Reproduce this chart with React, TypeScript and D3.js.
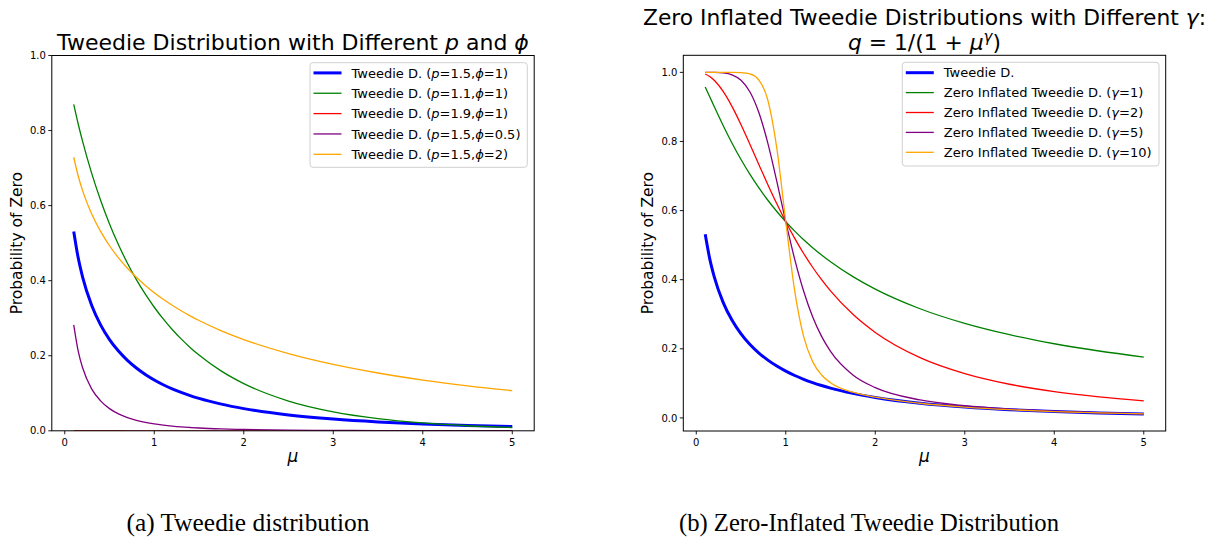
import React from "react";
import * as d3 from "d3";

// mean values sampled along the x axis
const MU = [0.1, 0.15, 0.2, 0.3, 0.4, 0.5, 0.6, 0.7, 0.8, 0.9, 1.0, 1.1, 1.2, 1.3, 1.4, 1.5, 1.75, 2.0, 2.5, 3.0, 3.5, 4.0, 4.5, 5.0];

// Left panel: Tweedie probability of zero
const TW_P15_PHI1 = [0.5313, 0.4609, 0.4089, 0.3344, 0.2823, 0.2431, 0.2124, 0.1876, 0.1672, 0.15, 0.1353, 0.1227, 0.1118, 0.1022, 0.0938, 0.0863, 0.071, 0.0591, 0.0423, 0.0313, 0.0237, 0.0183, 0.0144, 0.0114];
const TW_P11_PHI1 = [0.8695, 0.8175, 0.7703, 0.6866, 0.6144, 0.5513, 0.4958, 0.4466, 0.4029, 0.364, 0.3292, 0.298, 0.27, 0.2449, 0.2222, 0.2018, 0.159, 0.1258, 0.0793, 0.0505, 0.0324, 0.0209, 0.0135, 0.0088];
const TW_P19_PHI1 = [0.00035, 0.00026, 0.0002, 0.00014, 0.00011, 0.00009, 0.000075, 0.000064, 0.000057, 0.000051, 0.000045, 0.000041, 0.000037, 0.000035, 0.000032, 0.00003, 0.000026, 0.000022, 0.000017, 0.000014, 0.000012, 0.00001, 0.000009, 0.000008];
const TW_P15_PHI05 = [0.2823, 0.2124, 0.1672, 0.1118, 0.0797, 0.0591, 0.0451, 0.0352, 0.028, 0.0225, 0.0183, 0.0151, 0.0125, 0.0104, 0.0088, 0.0074, 0.005, 0.0035, 0.0018, 0.001, 0.00056, 0.00034, 0.00021, 0.00013];
const TW_P15_PHI2 = [0.7289, 0.6789, 0.6394, 0.5783, 0.5313, 0.4931, 0.4609, 0.4332, 0.4089, 0.3873, 0.3679, 0.3503, 0.3344, 0.3198, 0.3063, 0.2938, 0.2664, 0.2431, 0.2057, 0.1769, 0.154, 0.1353, 0.1199, 0.1069];

// Right panel: zero-inflated Tweedie
const ZI_G1 = [0.9574, 0.9297, 0.9015, 0.8464, 0.7949, 0.7477, 0.7047, 0.6655, 0.6299, 0.5974, 0.5677, 0.5405, 0.5155, 0.4926, 0.4714, 0.4518, 0.4088, 0.3727, 0.3159, 0.2735, 0.2407, 0.2146, 0.1936, 0.1762];
const ZI_G2 = [0.9954, 0.9881, 0.9773, 0.945, 0.901, 0.8486, 0.7915, 0.7328, 0.675, 0.6196, 0.5677, 0.5197, 0.4758, 0.436, 0.4, 0.3674, 0.2997, 0.2473, 0.1744, 0.1282, 0.0974, 0.076, 0.0608, 0.0494];
const ZI_G5 = [1.0, 1.0, 0.9998, 0.9984, 0.9927, 0.9771, 0.9432, 0.8831, 0.7945, 0.6844, 0.5677, 0.4588, 0.3664, 0.2927, 0.2359, 0.1926, 0.1244, 0.0876, 0.052, 0.0353, 0.0256, 0.0193, 0.0149, 0.0117];
const ZI_G10 = [1.0, 1.0, 1.0, 1.0, 0.9999, 0.9993, 0.9953, 0.9777, 0.9193, 0.7803, 0.5677, 0.3668, 0.2353, 0.1629, 0.1241, 0.1019, 0.0744, 0.06, 0.0424, 0.0313, 0.0237, 0.0183, 0.0144, 0.0114];

const X_TICKS = [0, 1, 2, 3, 4, 5];
const Y_TICKS = [0, 0.2, 0.4, 0.6, 0.8, 1.0];

type Series = { values: number[]; color: string; width: number; label: React.ReactNode };

const FONT = "DejaVu Sans";

const it = (s: string) => <tspan fontStyle="italic">{s}</tspan>;

const LEFT_SERIES: Series[] = [
  { values: TW_P15_PHI1, color: "#0000ff", width: 3, label: <>Tweedie D. ({it("p")}=1.5,{it("ϕ")}=1)</> },
  { values: TW_P11_PHI1, color: "#008000", width: 1.3, label: <>Tweedie D. ({it("p")}=1.1,{it("ϕ")}=1)</> },
  { values: TW_P19_PHI1, color: "#ff0000", width: 1.3, label: <>Tweedie D. ({it("p")}=1.9,{it("ϕ")}=1)</> },
  { values: TW_P15_PHI05, color: "#800080", width: 1.3, label: <>Tweedie D. ({it("p")}=1.5,{it("ϕ")}=0.5)</> },
  { values: TW_P15_PHI2, color: "#ffa500", width: 1.3, label: <>Tweedie D. ({it("p")}=1.5,{it("ϕ")}=2)</> },
];

const RIGHT_SERIES: Series[] = [
  { values: TW_P15_PHI1, color: "#0000ff", width: 3, label: <>Tweedie D.</> },
  { values: ZI_G1, color: "#008000", width: 1.3, label: <>Zero Inflated Tweedie D. ({it("γ")}=1)</> },
  { values: ZI_G2, color: "#ff0000", width: 1.3, label: <>Zero Inflated Tweedie D. ({it("γ")}=2)</> },
  { values: ZI_G5, color: "#800080", width: 1.3, label: <>Zero Inflated Tweedie D. ({it("γ")}=5)</> },
  { values: ZI_G10, color: "#ffa500", width: 1.3, label: <>Zero Inflated Tweedie D. ({it("γ")}=10)</> },
];

type PanelProps = {
  id: string;
  x0: number; x1: number; y0: number; y1: number;
  yDomain: [number, number];
  series: Series[];
  legend: { x: number; y: number; w: number; h: number; rowY: number; rowStep: number };
};

function Panel({ id, x0, x1, y0, y1, yDomain, series, legend }: PanelProps) {
  const x = d3.scaleLinear().domain([-0.145, 5.245]).range([x0, x1]);
  const y = d3.scaleLinear().domain(yDomain).range([y1, y0]);
  const line = d3
    .line<number>()
    .x((_, i) => x(MU[i]))
    .y((v) => y(v))
    .curve(d3.curveMonotoneX);
  return (
    <g>
      <defs>
        <clipPath id={id}>
          <rect x={x0} y={y0} width={x1 - x0} height={y1 - y0} />
        </clipPath>
      </defs>
      <g clipPath={`url(#${id})`}>
        {series.map((s, i) => (
          <path key={i} d={line(s.values) || ""} fill="none" stroke={s.color} strokeWidth={s.width} strokeLinejoin="round" strokeLinecap="butt" />
        ))}
      </g>
      <rect x={x0} y={y0} width={x1 - x0} height={y1 - y0} fill="none" stroke="#000" strokeWidth={1} />
      {X_TICKS.map((t) => (
        <g key={t}>
          <line x1={x(t)} x2={x(t)} y1={y1} y2={y1 + 3.5} stroke="#000" strokeWidth={0.9} />
          <text x={x(t)} y={y1 + 15} textAnchor="middle" fontFamily={FONT} fontSize={10} fill="#000">
            {d3.format("d")(t)}
          </text>
        </g>
      ))}
      {Y_TICKS.map((t) => (
        <g key={t}>
          <line x1={x0 - 3.5} x2={x0} y1={y(t)} y2={y(t)} stroke="#000" strokeWidth={0.9} />
          <text x={x0 - 6} y={y(t) + 3.6} textAnchor="end" fontFamily={FONT} fontSize={10} fill="#000">
            {d3.format(".1f")(t)}
          </text>
        </g>
      ))}
      <text x={(x0 + x1) / 2} y={462} textAnchor="middle" fontFamily={FONT} fontSize={17} fontStyle="italic" fill="#000">
        μ
      </text>
      <text
        transform={`translate(${x0 - 30},${(y0 + y1) / 2}) rotate(-90)`}
        textAnchor="middle"
        fontFamily={FONT}
        fontSize={15.5}
        fill="#000"
      >
        Probability of Zero
      </text>
      <rect x={legend.x} y={legend.y} width={legend.w} height={legend.h} rx={3} fill="#fff" fillOpacity={0.8} stroke="#d0d0d0" strokeWidth={1} />
      {series.map((s, i) => {
        const ry = legend.rowY + i * legend.rowStep;
        return (
          <g key={i}>
            <line x1={legend.x + 3.5} x2={legend.x + 31.5} y1={ry} y2={ry} stroke={s.color} strokeWidth={s.width} />
            <text x={legend.x + 41.5} y={ry + 4.6} fontFamily={FONT} fontSize={13} fill="#000">
              {s.label}
            </text>
          </g>
        );
      })}
    </g>
  );
}

export default function App() {
  return (
    <svg width={1215} height={537} style={{ position: "absolute", left: 0, top: 0, background: "#fff" }}>
      <rect x={0} y={0} width={1215} height={537} fill="#fff" />
      <text x={293} y={50} textAnchor="middle" fontFamily={FONT} fontSize={22} fill="#000">
        Tweedie Distribution with Different <tspan fontStyle="italic">p</tspan> and <tspan fontStyle="italic">ϕ</tspan>
      </text>
      <Panel
        id="clipL"
        x0={51.8}
        x1={534.2}
        y0={55.5}
        y1={430.8}
        yDomain={[0, 1]}
        series={LEFT_SERIES}
        legend={{ x: 310, y: 62.7, w: 217.3, h: 104.6, rowY: 72.9, rowStep: 20.35 }}
      />
      <text x={924.5} y={24.5} textAnchor="middle" fontFamily={FONT} fontSize={21.8} fill="#000">
        Zero Inflated Tweedie Distributions with Different <tspan fontStyle="italic">γ</tspan>:
      </text>
      <text x={924.5} y={49.5} textAnchor="middle" fontFamily={FONT} fontSize={21.8} fill="#000">
        <tspan fontStyle="italic">q</tspan> = 1/(1 + <tspan fontStyle="italic">μ</tspan>
        <tspan fontStyle="italic" fontSize={15} dy={-8}>γ</tspan>
        <tspan dy={8}>)</tspan>
      </text>
      <Panel
        id="clipR"
        x0={683.3}
        x1={1165.7}
        y0={55.3}
        y1={431}
        yDomain={[-0.0379, 1.0494]}
        series={RIGHT_SERIES}
        legend={{ x: 902.3, y: 62.3, w: 256.7, h: 103.7, rowY: 72.7, rowStep: 19.9 }}
      />
      <text x={248} y={530.5} textAnchor="middle" fontFamily="Liberation Serif" fontSize={25} fill="#000" textLength={243} lengthAdjust="spacingAndGlyphs">
        (a) Tweedie distribution
      </text>
      <text x={869} y={530.5} textAnchor="middle" fontFamily="Liberation Serif" fontSize={25} fill="#000" textLength={380} lengthAdjust="spacingAndGlyphs">
        (b) Zero-Inflated Tweedie Distribution
      </text>
    </svg>
  );
}
